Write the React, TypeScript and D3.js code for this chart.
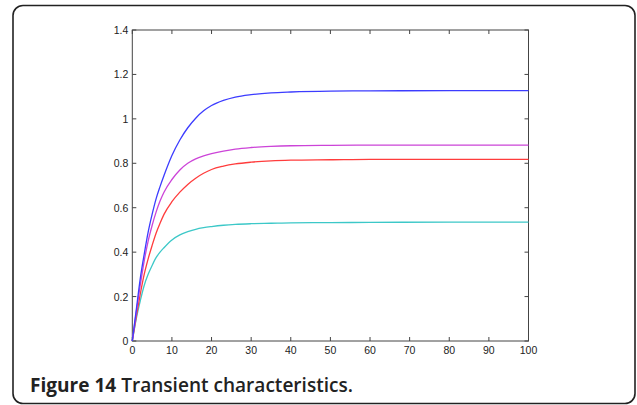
import React, { useEffect, useRef } from 'react'
import * as d3 from 'd3'

// x samples shared by all four curves
const timeSteps = [0, 1, 2, 3, 4, 5, 6, 7, 8, 10, 12, 14, 16, 18, 20, 23, 26, 30, 35, 40, 50, 60, 80, 100]

// responses
const blueSeries = [0, 0.14, 0.28, 0.39, 0.49, 0.57, 0.64, 0.695, 0.745, 0.835, 0.905, 0.96, 1.003, 1.036, 1.06, 1.083, 1.098, 1.109, 1.117, 1.121, 1.125, 1.126, 1.127, 1.127]
const magentaSeries = [0, 0.13, 0.25, 0.36, 0.45, 0.52, 0.58, 0.63, 0.67, 0.727, 0.77, 0.8, 0.82, 0.833, 0.843, 0.855, 0.864, 0.871, 0.876, 0.879, 0.881, 0.882, 0.882, 0.882]
const redSeries = [0, 0.11, 0.21, 0.3, 0.37, 0.43, 0.485, 0.53, 0.57, 0.627, 0.67, 0.705, 0.733, 0.755, 0.772, 0.787, 0.797, 0.805, 0.811, 0.814, 0.816, 0.818, 0.818, 0.818]
const cyanSeries = [0, 0.1, 0.18, 0.25, 0.3, 0.34, 0.375, 0.4, 0.42, 0.455, 0.478, 0.492, 0.503, 0.51, 0.515, 0.521, 0.525, 0.528, 0.53, 0.532, 0.533, 0.534, 0.535, 0.535]

const xTicks = [0, 10, 20, 30, 40, 50, 60, 70, 80, 90, 100]
const yTicks = [0, 0.2, 0.4, 0.6, 0.8, 1, 1.2, 1.4]

const seriesList = [
  { values: cyanSeries, color: '#3cc8c8' },
  { values: redSeries, color: '#ff3c3c' },
  { values: magentaSeries, color: '#cc44d8' },
  { values: blueSeries, color: '#3c3cff' }
]

export default function App() {
  const svgRef = useRef<SVGSVGElement | null>(null)

  useEffect(() => {
    if (!svgRef.current) return
    const svg = d3.select(svgRef.current)
    svg.selectAll('*').remove()

    const width = 637
    const height = 405
    const left = 132.3
    const right = 528.5
    const top = 30
    const bottom = 341

    // outer rounded frame, bottom runs off the picture
    svg.append('rect')
      .attr('x', 13)
      .attr('y', 5.5)
      .attr('width', 622)
      .attr('height', 398)
      .attr('rx', 10)
      .attr('fill', 'none')
      .attr('stroke', '#222')
      .attr('stroke-width', 1.6)

    const x = d3.scaleLinear().domain([0, 100]).range([left, right])
    const y = d3.scaleLinear().domain([0, 1.4]).range([bottom, top])

    // plot box
    svg.append('rect')
      .attr('x', left)
      .attr('y', top)
      .attr('width', right - left)
      .attr('height', bottom - top)
      .attr('fill', 'white')
      .attr('stroke', '#444')
      .attr('stroke-width', 1)

    const tickLen = 4
    const tickFont = 'Liberation Sans, Arial, sans-serif'

    // x ticks (inward, bottom and top)
    const xg = svg.append('g')
    xTicks.forEach(t => {
      xg.append('line').attr('x1', x(t)).attr('x2', x(t)).attr('y1', bottom).attr('y2', bottom - tickLen).attr('stroke', '#444')
      xg.append('line').attr('x1', x(t)).attr('x2', x(t)).attr('y1', top).attr('y2', top + tickLen).attr('stroke', '#444')
      xg.append('text')
        .attr('x', x(t))
        .attr('y', bottom + 13)
        .attr('text-anchor', 'middle')
        .style('font-family', tickFont)
        .style('font-size', '10.5px')
        .attr('fill', '#222')
        .text(String(t))
    })

    // y ticks (inward, left and right)
    const yg = svg.append('g')
    yTicks.forEach(t => {
      yg.append('line').attr('x1', left).attr('x2', left + tickLen).attr('y1', y(t)).attr('y2', y(t)).attr('stroke', '#444')
      yg.append('line').attr('x1', right).attr('x2', right - tickLen).attr('y1', y(t)).attr('y2', y(t)).attr('stroke', '#444')
      yg.append('text')
        .attr('x', left - 4)
        .attr('y', y(t) + 4)
        .attr('text-anchor', 'end')
        .style('font-family', tickFont)
        .style('font-size', '10.5px')
        .attr('fill', '#222')
        .text(d3.format('~g')(t))
    })

    // response curves
    const line = d3.line<number>()
      .x((_, i) => x(timeSteps[i]))
      .y(d => y(d))
      .curve(d3.curveMonotoneX)

    seriesList.forEach(s => {
      svg.append('path')
        .datum(s.values)
        .attr('d', line)
        .attr('fill', 'none')
        .attr('stroke', s.color)
        .attr('stroke-width', 1.3)
    })

    // caption
    const caption = svg.append('text')
      .attr('x', 30)
      .attr('y', 392)
      .attr('textLength', 323)
      .attr('lengthAdjust', 'spacingAndGlyphs')
      .style('font-family', 'Open Sans, Noto Sans, sans-serif')
      .style('font-size', '19px')
      .attr('fill', '#222')
    caption.append('tspan').style('font-weight', 700).text('Figure 14')
    caption.append('tspan').style('font-weight', 600).text(' Transient characteristics.')

    svg.attr('width', width).attr('height', height)
  }, [])

  return (
    <svg
      ref={svgRef}
      width={637}
      height={405}
      style={{ position: 'absolute', left: 0, top: 0, background: 'white' }}
    ></svg>
  )
}
